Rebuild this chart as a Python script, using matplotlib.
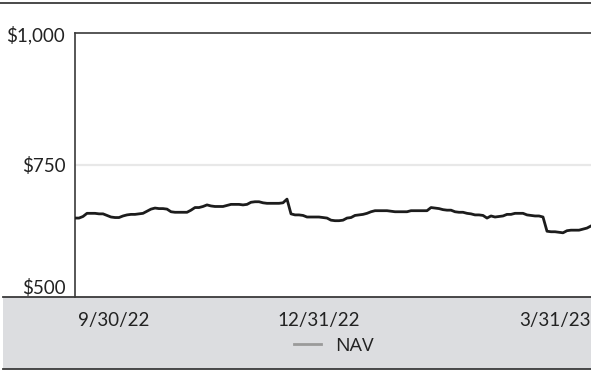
import matplotlib
matplotlib.use("Agg")
import matplotlib.pyplot as plt
from matplotlib.lines import Line2D
from matplotlib.patches import Rectangle

plt.rcParams['font.family'] = ['Lato', 'DejaVu Sans']

# NAV values, evenly spaced observations from mid-Aug 2022 to early Apr 2023
nav = [649, 649, 652, 658, 658, 658, 657, 657, 654, 651,
       650, 650, 653, 655, 656, 656, 657, 658, 662, 666,
       668, 667, 667, 666, 661, 660, 660, 660, 660, 664,
       669, 669, 671, 674, 672, 671, 671, 671, 673, 675,
       675, 675, 674, 675, 679, 680, 680, 678, 677, 677,
       677, 677, 678, 685, 657, 655, 655, 654, 651, 651,
       651, 651, 650, 649, 645, 644, 644, 645, 649, 650,
       654, 655, 656, 658, 661, 663, 663, 663, 663, 662,
       661, 661, 661, 661, 663, 663, 663, 663, 663, 669,
       668, 667, 665, 664, 664, 661, 660, 660, 658, 657,
       655, 655, 654, 649, 653, 651, 652, 653, 656, 656,
       658, 658, 658, 655, 654, 653, 653, 651, 624, 623,
       623, 622, 621, 625, 626, 626, 626, 628, 630, 634]
idx = list(range(len(nav)))

tick_pos = [9.75, 60.9, 120.1]
tick_labels = ['9/30/22', '12/31/22', '3/31/23']
y_ticks = [500, 750, 1000]
y_labels = ['$500', '$750', '$1,000']
legend_label = 'NAV'

W, H = 591, 370
fig = plt.figure(figsize=(W / 100, H / 100), dpi=100)

# grey band behind axis labels / legend
band = Rectangle((3 / W, (H - 368.5) / H), (W - 3) / W, (368.5 - 296.5) / H,
                 transform=fig.transFigure, facecolor='#dcdde0',
                 edgecolor='none', zorder=-5)
fig.patches.append(band)
# top rule, band top and bottom rules
fig.add_artist(Line2D([0, 1], [(H - 2.5) / H] * 2, transform=fig.transFigure,
                      color='#3a3a3a', lw=1.3))
fig.add_artist(Line2D([3 / W, 1], [(H - 296.5) / H] * 2, transform=fig.transFigure,
                      color='#3a3a3a', lw=1.3, zorder=5))
fig.add_artist(Line2D([3 / W, 1], [(H - 368.5) / H] * 2, transform=fig.transFigure,
                      color='#3a3a3a', lw=1.3))

ax = fig.add_axes([75 / W, (H - 296.5) / H, (W - 75) / W, (296.5 - 33.3) / H])
ax.set_facecolor('none')
ax.set_zorder(2)
ax.plot(idx, nav, color='#1c1c1c', lw=2.0, solid_joinstyle='round', zorder=3)
ax.set_xlim(0, len(nav) - 1)
ax.set_ylim(500, 1000)

ax.axhline(750, color='#e8e8e8', lw=1.6, zorder=1)

for s in ['right', 'bottom']:
    ax.spines[s].set_visible(False)
for s in ['left', 'top']:
    ax.spines[s].set_color('#3a3a3a')
    ax.spines[s].set_linewidth(1.2)

ax.set_yticks(y_ticks)
ax.set_yticklabels(y_labels)
ax.set_xticks(tick_pos)
ax.set_xticklabels(tick_labels)
ax.tick_params(axis='both', length=0, labelsize=13.5, colors='#222222')
ax.tick_params(axis='y', pad=7)
ax.tick_params(axis='x', pad=11)
ax.get_yticklabels()[0].set_verticalalignment('bottom')

handle = Line2D([], [], color='#9a9a9a', lw=2)
fig.legend([handle], [legend_label], loc='center',
           bbox_to_anchor=(334 / W, (H - 346) / H), frameon=False,
           prop={'family': ['Open Sans', 'DejaVu Sans'], 'size': 14},
           handlelength=1.4, handletextpad=0.75,
           labelcolor='#222222')

fig.savefig('out.png', dpi=100)
